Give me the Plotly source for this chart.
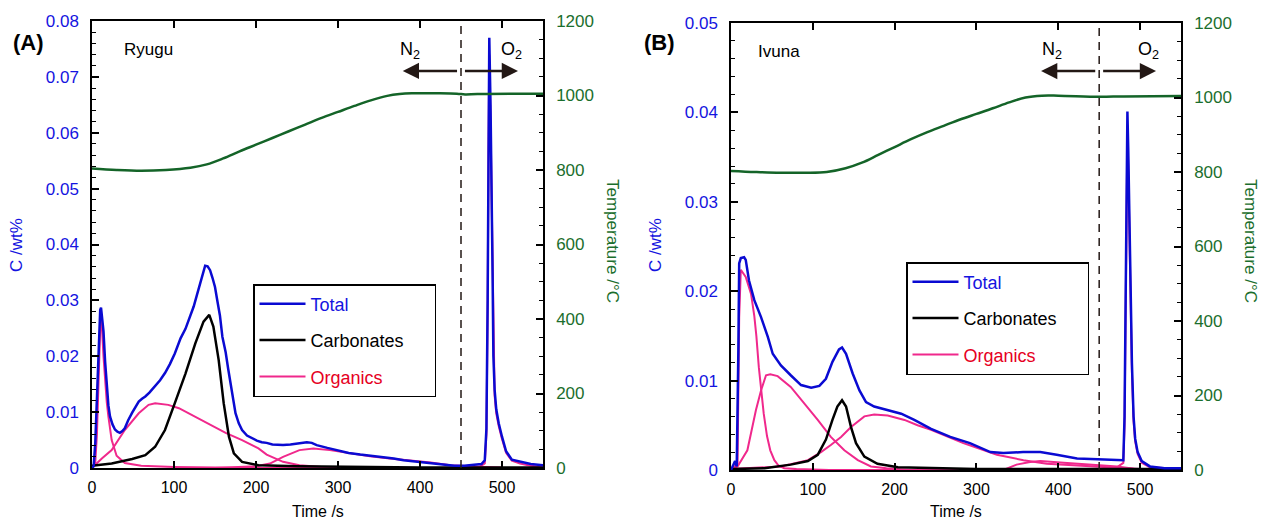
import plotly.graph_objects as go

# ---------------- DATA: (A) Ryugu ----------------
A_total_t = [0, 2, 4, 6, 8, 9, 10, 11, 12, 14, 16, 18, 20, 22, 25, 28, 31, 34, 37, 40, 44, 49, 53, 57, 61, 65,
             70, 77, 83, 89, 95, 101, 108, 114, 119, 124, 128, 132, 135, 138, 141, 144, 147, 150, 153, 156, 159,
             163, 166, 169, 172, 175, 179, 183, 189, 195, 201, 207, 213, 220, 233, 242, 250, 256, 262, 268, 274,
             287, 299, 313, 327, 341, 356, 368, 380, 392, 405, 417, 430, 442, 454, 466, 475, 479, 481, 482.5,
             483.5, 484.5, 486, 487.5, 488.5, 489.5, 491, 493, 496, 500, 505, 512, 522, 535, 550]
A_total_c = [0, 0.0003, 0.0045, 0.013, 0.021, 0.026, 0.0283, 0.0287, 0.0275, 0.0245, 0.019, 0.014, 0.0112,
             0.0092, 0.0078, 0.0069, 0.0065, 0.0063, 0.0066, 0.0071, 0.0085, 0.0099, 0.011, 0.0119, 0.0124,
             0.0128, 0.0135, 0.0146, 0.0157, 0.017, 0.0186, 0.0205, 0.0232, 0.0249, 0.0268, 0.0289, 0.031,
             0.033, 0.0348, 0.0362, 0.0361, 0.0354, 0.034, 0.0324, 0.0298, 0.0273, 0.0235, 0.0207, 0.0178,
             0.0152, 0.0124, 0.0098, 0.008, 0.0068, 0.0058, 0.0053, 0.0049, 0.0046, 0.0045, 0.0042, 0.0041,
             0.0042, 0.0044, 0.0045, 0.0046, 0.0045, 0.0041, 0.0036, 0.0032, 0.0027, 0.0024, 0.0022, 0.0019,
             0.0017, 0.0014, 0.0012, 0.001, 0.0008, 0.0005, 0.0004, 0.0004, 0.0005, 0.0007, 0.0014, 0.007,
             0.03, 0.06, 0.077, 0.065, 0.05, 0.035, 0.02, 0.014, 0.0105, 0.008, 0.0056, 0.003, 0.0015, 0.0011,
             0.0007, 0.0005]

A_carb_t = [0, 24, 49, 65, 77, 89, 101, 114, 126, 136, 143, 148, 154.5, 160.6, 167, 173, 183, 203, 250, 300,
            400, 550]
A_carb_c = [0.0004, 0.0008, 0.0016, 0.0023, 0.0038, 0.0068, 0.0116, 0.0169, 0.0223, 0.0262, 0.0274, 0.0253,
            0.0193, 0.0116, 0.0056, 0.0026, 0.0011, 0.0005, 0.0003, 0.0002, 0.0001, 0.0001]

A_org1_t = [0, 4, 6, 8, 10, 11, 12, 14, 16, 18, 20, 24, 30, 40, 60, 100, 150, 200, 550]
A_org1_c = [0, 0.001, 0.006, 0.017, 0.025, 0.027, 0.0255, 0.02, 0.0151, 0.0118, 0.0092, 0.005, 0.0022, 0.0009,
            0.0004, 0.0002, 0.0001, 0, 0]
A_org2_t = [0, 12, 24, 40, 57, 69, 77, 93, 106, 122, 142, 163, 183, 193, 203, 213, 220, 233, 253, 280, 320]
A_org2_c = [0, 0.0017, 0.0032, 0.0068, 0.0098, 0.0113, 0.0116, 0.0113, 0.0107, 0.0095, 0.008, 0.0063, 0.005,
            0.0042, 0.0035, 0.0024, 0.0019, 0.0011, 0.0005, 0.0002, 0.0001]
A_org3_t = [150, 180, 200, 217, 233, 253, 270, 290, 315, 339, 363, 388, 413, 437, 460, 480, 500]
A_org3_c = [0, 0.0001, 0.0003, 0.0008, 0.002, 0.0032, 0.0035, 0.0032, 0.0026, 0.0021, 0.0017, 0.0014, 0.001,
            0.0005, 0.0003, 0.0002, 0.0001]
A_org4_t = [470, 479, 481, 482.5, 483.5, 484.5, 486, 487.5, 488.5, 489.5, 491, 493, 496, 500, 505, 512, 522,
            535, 550]
A_org4_c = [0, 0.0008, 0.006, 0.028, 0.057, 0.074, 0.062, 0.047, 0.033, 0.019, 0.013, 0.0098, 0.0075, 0.0052,
            0.0027, 0.0013, 0.0008, 0.0004, 0.0002]

A_temp_t = [0, 30, 60, 90, 120, 140, 160, 180, 200, 220, 240, 260, 280, 300, 320, 340, 360, 375, 390, 420, 445,
            455, 470, 550]
A_temp_T = [804, 800, 798, 800, 806, 815, 831, 850, 868, 886, 904, 922, 940, 956, 972, 987, 999, 1004, 1006,
            1006, 1005, 1003, 1004, 1005]

# ---------------- DATA: (B) Ivuna ----------------
B_total_t = [0, 3, 5, 7, 8, 9, 10, 12, 16, 18, 22, 28.5, 36.7, 45, 51, 61, 73, 85.6, 98, 108, 116, 124, 132,
             135.7, 140.6, 148.7, 157, 165, 175, 191.5, 208, 224, 236, 244.5, 268, 292, 317, 333, 357, 378, 398,
             423, 448, 472, 479.5, 481, 482.5, 483.5, 484.5, 485.5, 487, 488, 489, 490, 492, 494, 497, 502, 512,
             530, 550]
B_total_c = [0, 0.0007, 0.001, 0.0004, 0.006, 0.0134, 0.0231, 0.0237, 0.0238, 0.0235, 0.0212, 0.019, 0.0171,
             0.0149, 0.013, 0.0117, 0.0106, 0.0095, 0.0092, 0.0094, 0.0102, 0.0121, 0.0135, 0.0137, 0.013,
             0.0108, 0.0089, 0.0076, 0.0071, 0.0067, 0.0063, 0.0056, 0.005, 0.0046, 0.0037, 0.003, 0.002,
             0.0019, 0.002, 0.002, 0.0017, 0.0013, 0.0012, 0.0011, 0.0011, 0.006, 0.023, 0.034, 0.0401, 0.036,
             0.027, 0.022, 0.016, 0.012, 0.006, 0.0035, 0.002, 0.001, 0.0004, 0.0002, 0.0002]

B_carb_t = [0, 41, 73, 94, 106, 116, 124, 130, 135.7, 140.6, 146.7, 152.8, 163, 179, 204, 250, 300, 550]
B_carb_c = [0.0001, 0.0002, 0.0006, 0.001, 0.0017, 0.0034, 0.0056, 0.0071, 0.0078, 0.0071, 0.0048, 0.003,
            0.0015, 0.0007, 0.0003, 0.0002, 0.0001, 0.0001]

B_org1_t = [0, 8, 10, 12, 18, 24.5, 28.5, 31, 34, 37, 40, 44, 48, 53, 58, 65, 80, 120, 550]
B_org1_c = [0, 0.0007, 0.0171, 0.0224, 0.0216, 0.0197, 0.0172, 0.015, 0.0115, 0.0085, 0.0063, 0.0038, 0.0022,
            0.0011, 0.0005, 0.0002, 0.0001, 0, 0]
B_org2_t = [0, 8, 20, 30.5, 36.7, 42.8, 48, 57, 73, 89.6, 106, 122, 138.5, 155, 171, 190, 220]
B_org2_c = [0, 0.0004, 0.0022, 0.0067, 0.0089, 0.0106, 0.0107, 0.0105, 0.0093, 0.0075, 0.0056, 0.0037, 0.0022,
            0.0011, 0.0004, 0.0002, 0]
B_org3_t = [0, 61, 94, 110, 122, 134.5, 146.7, 163, 175, 191.5, 212, 228, 244.5, 284, 325, 357.5, 386, 426.6,
            467, 500]
B_org3_c = [0.0001, 0.0004, 0.0011, 0.002, 0.0028, 0.0037, 0.0048, 0.006, 0.0062, 0.0061, 0.0056, 0.005,
            0.0045, 0.003, 0.0017, 0.0011, 0.0007, 0.0005, 0.0003, 0.0001]
B_org4_t = [333, 349, 365.6, 378, 406.6, 439, 472, 488, 500]
B_org4_c = [0, 0.0006, 0.0009, 0.001, 0.0008, 0.0006, 0.0004, 0.0002, 0]
B_org5_t = [470, 479.5, 481, 482.5, 483.5, 484.5, 485.5, 487, 488, 489, 490, 492, 494, 497, 502, 512, 550]
B_org5_c = [0.0002, 0.0008, 0.005, 0.021, 0.032, 0.038, 0.034, 0.026, 0.021, 0.015, 0.011, 0.0055, 0.0032,
            0.0018, 0.0008, 0.0003, 0.0001]

B_temp_t = [0, 30, 60, 90, 117, 140, 160, 180, 200, 220, 240, 260, 280, 300, 320, 340, 360, 380, 400, 450, 480,
            550]
B_temp_T = [803, 800, 798, 798, 800, 810, 825, 846, 867, 888, 907, 924, 941, 956, 971, 987, 1000, 1005, 1005,
            1002, 1003, 1004]

# labels
legend_names = ["Total", "Carbonates", "Organics"]
panel_tags = ["(A)", "(B)"]
sample_names = ["Ryugu", "Ivuna"]
x_title = "Time /s"
y_title = "C /wt%"
y2_title = "Temperature /°C"
gas_labels = ["N<sub>2</sub>", "O<sub>2</sub>"]
gas_switch_t = 450

# ---------------- STYLE ----------------
W, H = 1269, 527
FONT = "Liberation Sans, Arial, Helvetica, sans-serif"
BLUE = "#0a0ad2"
BLUE_TXT = "#1414e0"
BLACK = "#000000"
PINK = "#f0288c"
RED_TXT = "#e6001e"
GREEN = "#146428"
GREEN_TXT = "#1b6e2d"
ARROW = "#231815"
NBSP = "\u00a0"

def px_x(p):
    return p / W

def px_y(p):
    return 1 - p / H

panels = [
    dict(dom_x=[px_x(92), px_x(543)], dom_y=[px_y(468), px_y(21)], ymax=0.08,
         xa="x", ya="y", ya2="y2", xkey="xaxis", ykey="yaxis", y2key="yaxis2", legend="legend",
         total=(A_total_t, A_total_c), carb=(A_carb_t, A_carb_c),
         orgs=[(A_org1_t, A_org1_c), (A_org2_t, A_org2_c), (A_org3_t, A_org3_c), (A_org4_t, A_org4_c)],
         temp=(A_temp_t, A_temp_T), arrow_T=1066, gas_x=(388, 512),
         tag_xy=(28, 42), name_xy=(148, 50), ytitle_x=17, y2title_x=612, xtitle_x=318,
         leg_xy=(253, 284)),
    dict(dom_x=[px_x(731), px_x(1181)], dom_y=[px_y(470), px_y(23)], ymax=0.05,
         xa="x2", ya="y3", ya2="y4", xkey="xaxis2", ykey="yaxis3", y2key="yaxis4", legend="legend2",
         total=(B_total_t, B_total_c), carb=(B_carb_t, B_carb_c),
         orgs=[(B_org1_t, B_org1_c), (B_org2_t, B_org2_c), (B_org3_t, B_org3_c), (B_org4_t, B_org4_c),
               (B_org5_t, B_org5_c)],
         temp=(B_temp_t, B_temp_T), arrow_T=1071, gas_x=(392, 510),
         tag_xy=(659, 42), name_xy=(779, 51), ytitle_x=656, y2title_x=1250, xtitle_x=956,
         leg_xy=(906, 262)),
]

fig = go.Figure()
annotations = []
shapes = []
layout = {}


def text_ann(x, y, text, size, color="black", angle=0, xref="paper"):
    return dict(xref=xref, yref="paper", x=x, y=y, text=text, textangle=angle, showarrow=False,
                xanchor="center", yanchor="middle", font=dict(family=FONT, size=size, color=color))


for i, p in enumerate(panels):
    for k, (t, c) in enumerate(p["orgs"]):
        fig.add_trace(go.Scatter(
            x=t, y=c, mode="lines", line=dict(color=PINK, width=2),
            xaxis=p["xa"], yaxis=p["ya"], legend=p["legend"],
            name="<span style='color:%s'>%s</span>" % (RED_TXT, legend_names[2]),
            legendgroup="org%d" % i, legendrank=3, showlegend=(k == 0), hoverinfo="skip"))
    fig.add_trace(go.Scatter(
        x=p["carb"][0], y=p["carb"][1], mode="lines", line=dict(color=BLACK, width=2.5),
        xaxis=p["xa"], yaxis=p["ya"], legend=p["legend"], name=legend_names[1] + NBSP * 5,
        legendgroup="carb%d" % i, legendrank=2, hoverinfo="skip"))
    fig.add_trace(go.Scatter(
        x=p["total"][0], y=p["total"][1], mode="lines", line=dict(color=BLUE, width=2.5),
        xaxis=p["xa"], yaxis=p["ya"], legend=p["legend"],
        name="<span style='color:%s'>%s</span>" % (BLUE_TXT, legend_names[0]),
        legendgroup="tot%d" % i, legendrank=1, hoverinfo="skip"))
    fig.add_trace(go.Scatter(
        x=p["temp"][0], y=p["temp"][1], mode="lines", line=dict(color=GREEN, width=2.5, shape="spline"),
        xaxis=p["xa"], yaxis=p["ya2"], showlegend=False, hoverinfo="skip"))

    tickfont = dict(family=FONT, size=17)
    layout[p["xkey"]] = dict(
        domain=p["dom_x"], anchor=p["ya"], range=[0, 550], dtick=100, tick0=0, automargin=False,
        ticks="inside", ticklen=7, tickwidth=1.5, tickcolor="black",
        showline=True, linecolor="black", linewidth=1.5, mirror="ticks",
        showgrid=False, zeroline=False, tickfont=dict(family=FONT, size=16, color="black"),
        ticklabelstandoff=4)
    layout[p["ykey"]] = dict(
        domain=p["dom_y"], anchor=p["xa"], range=[0, p["ymax"]], dtick=0.01, tick0=0, automargin=False,
        ticks="inside", ticklen=7, tickwidth=1.5, tickcolor="black",
        minor=dict(dtick=0.002, ticks="inside", ticklen=4, tickwidth=1.2, tickcolor="black"),
        showline=True, linecolor="black", linewidth=1.5, mirror=False,
        showgrid=False, zeroline=False, tickfont=dict(tickfont, color=BLUE_TXT),
        ticklabelstandoff=8)
    layout[p["y2key"]] = dict(
        overlaying=p["ya"], anchor=p["xa"], side="right", range=[0, 1200], dtick=200, tick0=0,
        automargin=False,
        ticks="inside", ticklen=7, tickwidth=1.5, tickcolor="black",
        minor=dict(dtick=50, ticks="inside", ticklen=4, tickwidth=1.2, tickcolor="black"),
        showline=True, linecolor="black", linewidth=1.5,
        showgrid=False, zeroline=False, tickfont=dict(tickfont, color=GREEN_TXT),
        ticklabelstandoff=8)

    layout[p["legend"]] = dict(
        x=px_x(p["leg_xy"][0]), y=px_y(p["leg_xy"][1]), xanchor="left", yanchor="top",
        bgcolor="white", bordercolor="black", borderwidth=1.5,
        font=dict(family=FONT, size=18, color="black"), tracegroupgap=10,
        itemwidth=46, traceorder="grouped")

    shapes.append(dict(type="line", xref=p["xa"], yref=p["ya"] + " domain", x0=gas_switch_t, x1=gas_switch_t,
                       y0=0, y1=1, line=dict(color="#231815", width=1.5, dash="8px,6px")))

    for tip in (379, 519.5):
        tail = gas_switch_t - 3 if tip < gas_switch_t else gas_switch_t + 3
        annotations.append(dict(
            xref=p["xa"], yref=p["ya2"], x=tip, y=p["arrow_T"], axref=p["xa"], ayref=p["ya2"],
            ax=tail, ay=p["arrow_T"], text="", showarrow=True, arrowhead=2, arrowsize=1.3,
            arrowwidth=2.5, arrowcolor=ARROW))
    for g, gx in zip(gas_labels, p["gas_x"]):
        annotations.append(dict(xref=p["xa"], yref="paper", x=gx, y=px_y(64), text=g, showarrow=False,
                                xanchor="center", yanchor="bottom",
                                font=dict(family=FONT, size=18, color="black")))

    annotations.append(text_ann(px_x(p["tag_xy"][0]), px_y(p["tag_xy"][1]), "<b>%s</b>" % panel_tags[i], 22))
    annotations.append(text_ann(px_x(p["name_xy"][0]), px_y(p["name_xy"][1]), sample_names[i], 17))
    annotations.append(text_ann(px_x(p["ytitle_x"]), px_y(245), y_title, 17, BLUE_TXT, -90))
    annotations.append(text_ann(px_x(p["y2title_x"]), px_y(241), y2_title, 17, GREEN_TXT, 90))
    annotations.append(text_ann(px_x(p["xtitle_x"]), px_y(511), x_title, 16))

fig.update_layout(
    width=W, height=H, margin=dict(l=0, r=0, t=0, b=0, autoexpand=False),
    paper_bgcolor="white", plot_bgcolor="white",
    font=dict(family=FONT, color="black"),
    annotations=annotations, shapes=shapes, **layout)

fig.write_html("out.html", config={"displayModeBar": False},
               post_script="document.body.style.margin='0px';")
